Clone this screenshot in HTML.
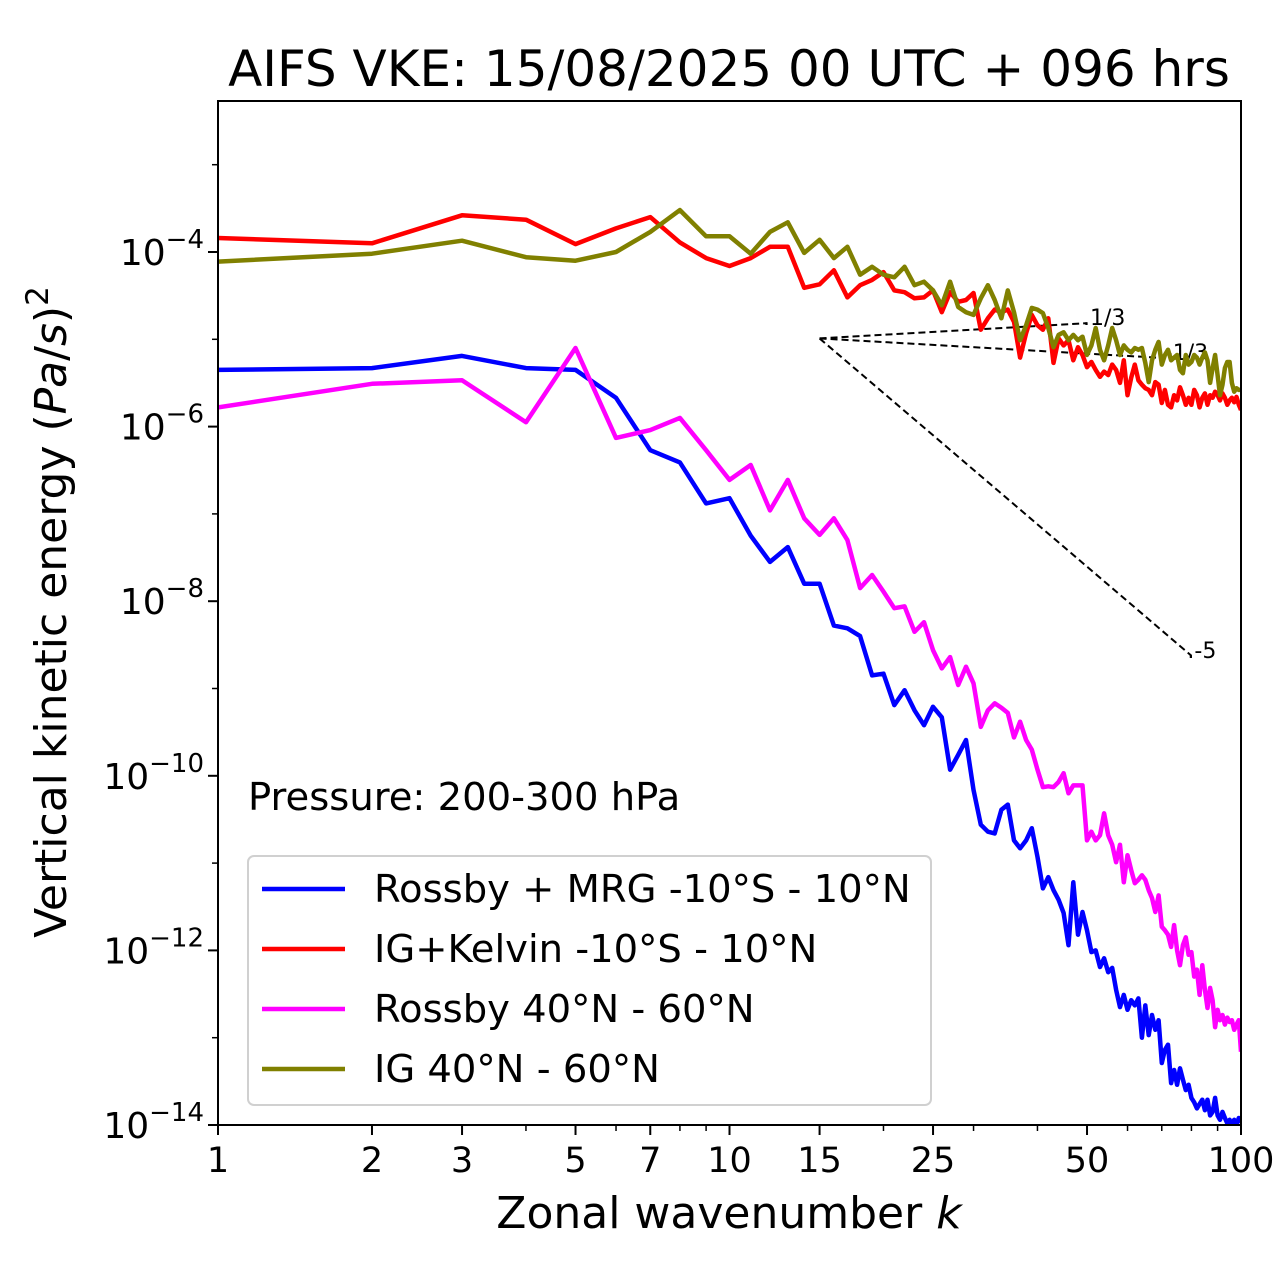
<!DOCTYPE html>
<html><head><meta charset="utf-8"><style>
body{margin:0;background:#fff;}
svg{display:block;font-family:"DejaVu Sans","Liberation Sans",sans-serif;}
</style></head><body>
<svg id="chart" width="1280" height="1288" viewBox="0 0 1280 1288" xmlns="http://www.w3.org/2000/svg">
<rect x="0" y="0" width="1280" height="1288" fill="#fff"/>
<text x="729" y="86" font-size="50" text-anchor="middle">AIFS VKE: 15/08/2025 00 UTC + 096 hrs</text>
<g id="plot"></g>
<text x="729" y="1228" font-size="44" text-anchor="middle">Zonal wavenumber <tspan font-style="italic">k</tspan></text>
<text transform="translate(66,612) rotate(-90)" font-size="44" text-anchor="middle">Vertical kinetic energy (<tspan font-style="italic">Pa</tspan>/<tspan font-style="italic">s</tspan>)<tspan dy="-18" font-size="31">2</tspan></text>
<text x="248" y="810" font-size="38.5">Pressure: 200-300 hPa</text>
</svg>
<script>
// log10 of vertical kinetic energy for k = 1..100
const blue = [-5.35,-5.33,-5.19,-5.33,-5.35,-5.67,-6.27,-6.41,-6.88,-6.82,-7.25,-7.55,-7.38,-7.80,-7.80,-8.28,-8.31,-8.40,-8.85,-8.83,-9.19,-9.02,-9.25,-9.42,-9.21,-9.33,-9.93,-9.76,-9.59,-10.16,-10.56,-10.64,-10.66,-10.39,-10.33,-10.74,-10.83,-10.74,-10.60,-10.93,-11.29,-11.16,-11.31,-11.42,-11.57,-11.94,-11.22,-11.82,-11.56,-11.77,-12.02,-12.00,-12.19,-12.09,-12.25,-12.20,-12.45,-12.65,-12.51,-12.68,-12.57,-12.63,-12.55,-13.00,-12.63,-12.97,-12.74,-12.91,-12.80,-13.29,-13.14,-13.08,-13.52,-13.37,-13.54,-13.35,-13.48,-13.60,-13.54,-13.69,-13.74,-13.81,-13.76,-13.71,-13.83,-13.71,-13.89,-13.85,-13.69,-13.89,-13.94,-13.85,-13.92,-13.98,-13.94,-14.00,-13.94,-14.00,-13.92,-13.97];
const red = [-3.84,-3.90,-3.58,-3.63,-3.91,-3.73,-3.60,-3.89,-4.07,-4.16,-4.07,-3.94,-3.94,-4.41,-4.37,-4.21,-4.52,-4.38,-4.32,-4.23,-4.44,-4.46,-4.53,-4.52,-4.44,-4.69,-4.46,-4.57,-4.55,-4.47,-4.89,-4.76,-4.66,-4.69,-4.66,-4.80,-5.21,-4.93,-4.72,-4.84,-4.89,-4.76,-5.27,-4.99,-5.07,-5.01,-5.24,-5.09,-5.18,-5.32,-5.26,-5.35,-5.43,-5.37,-5.41,-5.29,-5.35,-5.50,-5.24,-5.64,-5.44,-5.29,-5.47,-5.52,-5.56,-5.58,-5.64,-5.49,-5.52,-5.73,-5.58,-5.75,-5.78,-5.64,-5.70,-5.55,-5.64,-5.75,-5.67,-5.75,-5.58,-5.64,-5.78,-5.67,-5.62,-5.75,-5.64,-5.67,-5.60,-5.64,-5.70,-5.62,-5.67,-5.75,-5.70,-5.67,-5.72,-5.66,-5.75,-5.81];
const magenta = [-5.78,-5.51,-5.47,-5.95,-5.10,-6.13,-6.04,-5.90,-6.27,-6.61,-6.44,-6.96,-6.61,-7.05,-7.24,-7.05,-7.30,-7.85,-7.70,-7.89,-8.08,-8.06,-8.35,-8.24,-8.56,-8.77,-8.64,-8.96,-8.75,-8.94,-9.44,-9.25,-9.17,-9.22,-9.28,-9.56,-9.38,-9.59,-9.70,-9.93,-10.13,-10.12,-10.13,-10.07,-9.97,-10.20,-10.11,-10.11,-10.11,-10.74,-10.64,-10.74,-10.68,-10.43,-10.68,-10.79,-10.99,-10.79,-11.22,-10.91,-11.08,-11.23,-11.19,-11.14,-11.19,-11.31,-11.40,-11.56,-11.37,-11.73,-11.77,-11.82,-11.96,-11.71,-12.00,-12.17,-11.94,-11.85,-12.05,-12.02,-12.30,-12.22,-12.51,-12.17,-12.45,-12.66,-12.43,-12.57,-12.88,-12.68,-12.80,-12.74,-12.85,-12.77,-12.82,-12.80,-12.91,-12.85,-12.80,-13.16];
const olive = [-4.11,-4.02,-3.87,-4.06,-4.10,-4.00,-3.77,-3.52,-3.82,-3.82,-4.02,-3.77,-3.66,-4.01,-3.86,-4.07,-3.94,-4.26,-4.17,-4.26,-4.29,-4.17,-4.38,-4.34,-4.44,-4.61,-4.34,-4.63,-4.69,-4.72,-4.53,-4.38,-4.55,-4.76,-4.44,-4.69,-5.01,-4.84,-4.64,-4.66,-4.70,-4.87,-5.09,-4.95,-4.92,-5.01,-4.95,-5.01,-4.97,-5.18,-5.07,-4.87,-5.12,-5.24,-5.07,-4.87,-5.01,-5.18,-5.07,-5.12,-5.15,-5.10,-5.12,-5.10,-5.27,-5.49,-5.24,-5.12,-5.03,-5.29,-5.18,-5.12,-5.24,-5.21,-5.18,-5.35,-5.39,-5.18,-5.29,-5.26,-5.18,-5.21,-5.29,-5.21,-5.15,-5.24,-5.50,-5.33,-5.18,-5.41,-5.64,-5.52,-5.33,-5.26,-5.26,-5.50,-5.60,-5.56,-5.58,-5.58];
const xTickLabels = [1,2,3,5,7,10,15,25,50,100];
const xMinor = [4,6,8,9,20,30,40,60,70,80,90];
const yTickExps = [-14,-12,-10,-8,-6,-4];
const yMinorExps = [-13,-11,-9,-7,-5,-3];
const refStartK = 15, refStartE = -4.99;
const refEndK = [50, 70, 80];
const refSlopes = [1/3, -1/3, -5];
const refLabels = ['.1/3','.-1/3','.-5'];
const seriesNames = ['Rossby + MRG -10°S - 10°N','IG+Kelvin -10°S - 10°N','Rossby 40°N - 60°N','IG 40°N - 60°N'];

const L=218,R=1241,T=101,B=1125;
const yTopE=-4+(252-T)/87.3;
function xs(k){return L+(R-L)*Math.log10(k)/2;}
function ys(e){return T+(B-T)*(yTopE-e)/(yTopE+14);}
const NS='http://www.w3.org/2000/svg';
const plot=document.getElementById('plot');
function mk(tag,attrs,parent){const el=document.createElementNS(NS,tag);for(const a in attrs)el.setAttribute(a,attrs[a]);(parent||plot).appendChild(el);return el;}

const defs=mk('defs',{});
const cp=mk('clipPath',{id:'clip'},defs);
mk('rect',{x:L,y:T,width:R-L,height:B-T},cp);

for(let i=0;i<refSlopes.length;i++){
  const e2=refStartE+refSlopes[i]*Math.log10(refEndK[i]/refStartK);
  const ln=mk('line',{x1:xs(refStartK),y1:ys(refStartE),x2:xs(refEndK[i]),y2:ys(e2),stroke:'#000','stroke-width':2,'stroke-dasharray':'7,4'});
  
  
  const t=mk('text',{x:xs(refEndK[i])-4,y:ys(e2)+2,'font-size':22});
  t.textContent=refLabels[i];
  
  
}

const series=[[blue,'#0000ff'],[red,'#ff0000'],[magenta,'#ff00ff'],[olive,'#808000']];
const g=mk('g',{'clip-path':'url(#clip)'});
series.forEach((s,si)=>{
  const pts=s[0].map((e,i)=>xs(i+1).toFixed(1)+','+ys(e).toFixed(1)).join(' ');
  const pl=mk('polyline',{points:pts,fill:'none',stroke:s[1],'stroke-width':4.5,'stroke-linejoin':'round'},g);
  
  
});

const fr=mk('rect',{x:L,y:T,width:R-L,height:B-T,fill:'none',stroke:'#000','stroke-width':2});



xTickLabels.forEach(k=>{
  const x=xs(k);
  const tk=mk('line',{x1:x,y1:B,x2:x,y2:B+10,stroke:'#000','stroke-width':2});
  
  
  const t=mk('text',{x:x,y:B+47,'font-size':35,'text-anchor':'middle'});
  t.textContent=k;
  
  
});
xMinor.forEach(k=>{
  const x=xs(k);
  const tk=mk('line',{x1:x,y1:B,x2:x,y2:B+6,stroke:'#000','stroke-width':1.5});
  
  
});
yTickExps.forEach(e=>{
  const y=ys(e);
  const tk=mk('line',{x1:L-10,y1:y,x2:L,y2:y,stroke:'#000','stroke-width':2});
  
  
  const t=mk('text',{x:L-14,y:y+13,'font-size':36,'text-anchor':'end'});
  t.innerHTML='10<tspan dy="-17" font-size="26">'+String(e).replace('-','\u2212')+'</tspan>';
  
  
});
yMinorExps.forEach(e=>{
  const y=ys(e);
  if(y<T)return;
  const tk=mk('line',{x1:L-6,y1:y,x2:L,y2:y,stroke:'#000','stroke-width':1.5});
  
  
});

const lg=mk('g',{});


mk('rect',{x:248,y:856,width:683,height:249,rx:6,fill:'#fff','fill-opacity':0.85,stroke:'#d0d0d0','stroke-width':2},lg);
series.forEach((s,i)=>{
  const y=889+i*60;
  const ln=mk('line',{x1:262,y1:y,x2:345,y2:y,stroke:s[1],'stroke-width':4.5},lg);
  
  
  const t=mk('text',{x:374,y:y+13,'font-size':38.5},lg);
  t.textContent=seriesNames[i];
  
  
});
</script>
</body></html>
